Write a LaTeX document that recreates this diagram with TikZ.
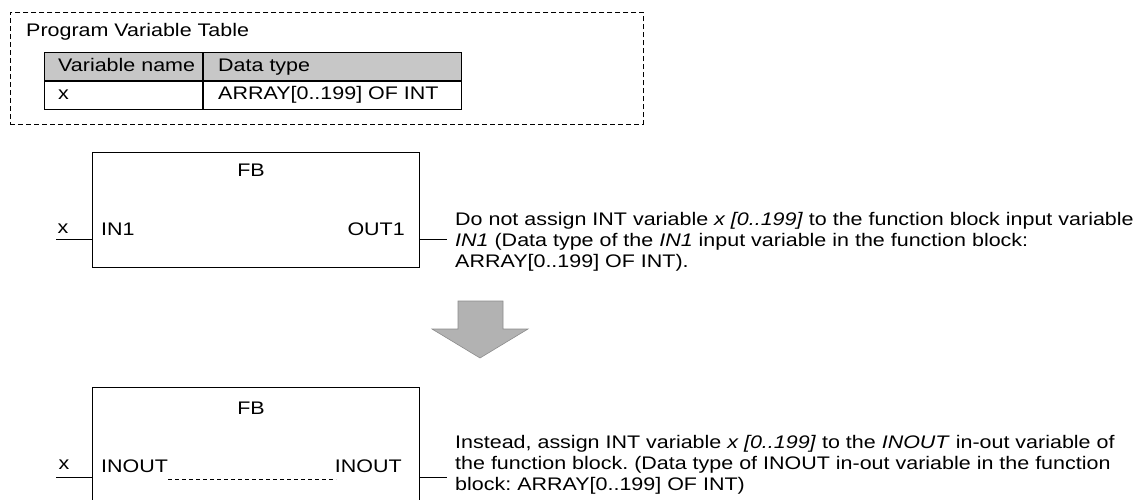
\documentclass[tikz,border=0pt]{standalone}
\usepackage{fontspec}
\setmainfont[FakeStretch=1.18]{Liberation Sans}
\begin{document}
\frenchspacing
\begin{tikzpicture}[x=1pt,y=-1pt,
  font=\fontsize{18.2}{21}\selectfont,
  lbl/.style={inner sep=0pt, anchor=base west},
  cell/.style={draw, line width=1pt, minimum height=28pt, inner sep=0pt, anchor=north west},
  fbbox/.style={draw, line width=0.9pt, anchor=north west, inner sep=0pt, minimum width=327pt, minimum height=115pt},
  wire/.style={line width=0.9pt},
  para/.style={inner sep=0pt, anchor=base west, align=left}]
\useasboundingbox (0,0) rectangle (1142,500);
\clip (0,0) rectangle (1142,500);
% variable table frame
\node[draw, dash pattern=on 5pt off 3pt, line width=0.8pt, minimum width=633pt, minimum height=112pt, anchor=north west, inner sep=0pt] (frame) at (10,12) {};
\node[lbl] (title) at (26,37) {Program Variable Table};
\node[cell, fill=black!22, minimum width=158pt] (h1) at (44,52) {};
\node[cell, fill=black!22, minimum width=258pt] (h2) at (h1.north east) {};
\node[cell, minimum width=158pt] (c1) at (h1.south west) {};
\node[cell, minimum width=258pt] (c2) at (c1.north east) {};
\node[lbl] (h1t) at (58,72) {Variable name};
\node[lbl] (h2t) at (218,72) {Data type};
\node[lbl] (c1t) at (58,100) {x};
\node[lbl] (c2t) at (218,100) {ARRAY[0..199] OF INT};
% upper FB
\node[fbbox] (fb1) at (92,152) {};
\node[anchor=base, inner sep=0pt] (fb1t) at (251,176) {FB};
\node[lbl] (in1) at (101,235) {IN1};
\node[inner sep=0pt, anchor=base east] (out1) at (405,235) {OUT1};
\coordinate (x1) at (56,239);
\coordinate (o1) at (447,239);
\draw[wire] (x1) -- (x1 -| fb1.west);
\draw[wire] (o1 -| fb1.east) -- (o1);
\node[anchor=base, inner sep=0pt] (x1l) at (63,233) {x};
\node[para] (p1) at (455,267) {Do not assign INT variable \textit{x [0..199]} to the function block input variable\\
\textit{IN1} (Data type of the \textit{IN1} input variable in the function block:\\
ARRAY[0..199] OF INT).};
% arrow
\draw[fill=black!30, draw=black!45, line width=0.6pt] (458,301) -- (503,301) -- (503,329) -- (528,329) -- (480,358) -- (432,329) -- (458,329) -- cycle;
% lower FB
\node[fbbox] (fb2) at (92,387) {};
\node[anchor=base, inner sep=0pt] (fb2t) at (251,414) {FB};
\node[lbl] (io1) at (101,472) {INOUT};
\node[inner sep=0pt, anchor=base east] (io2) at (402,472) {INOUT};
\coordinate (d1) at (168,479);
\coordinate (d2) at (336,479);
\draw[wire, dash pattern=on 4pt off 3pt] (d1) -- (d2);
\coordinate (x2) at (56,477);
\coordinate (o2) at (447,477);
\draw[wire] (x2) -- (x2 -| fb2.west);
\draw[wire] (o2 -| fb2.east) -- (o2);
\node[anchor=base, inner sep=0pt] (x2l) at (64,469) {x};
\node[para] (p2) at (455,490) {Instead, assign INT variable \textit{x [0..199]} to the \textit{INOUT} in-out variable of\\
the function block. (Data type of INOUT in-out variable in the function\\
block: ARRAY[0..199] OF INT)};
\end{tikzpicture}
\end{document}
